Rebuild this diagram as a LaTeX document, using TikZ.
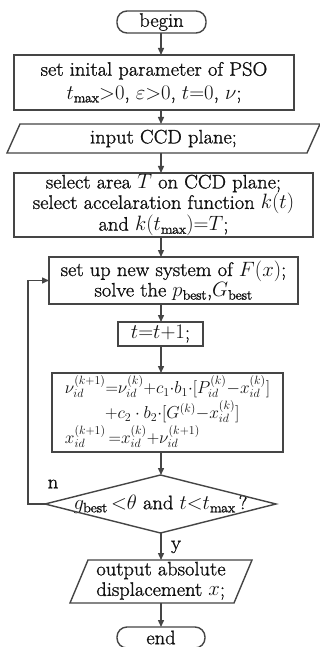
\documentclass[tikz,border=0pt]{standalone}
\usepackage{fontspec}
\setmainfont{Latin Modern Roman}[FakeStretch=1.05,FakeBold=1.2]
\usetikzlibrary{arrows.meta,calc}
\definecolor{lc}{HTML}{454545}
\definecolor{tc}{HTML}{111111}
\begin{document}
\begin{tikzpicture}[x=1pt,y=-1pt,
  every node/.style={font=\fontsize{19.5}{20.5}\selectfont, inner sep=0pt, outer sep=0pt, text=tc},
  ln/.style={draw=lc, line width=1.4pt},
  box/.style={ln, rectangle, align=center},
  term/.style={ln, rounded corners=10pt},
  arr/.style={ln, -{Triangle[length=7pt,width=6pt]}}]
\fill[white] (0,0) rectangle (320,647);
\useasboundingbox (0,0) rectangle (320,647);
\coordinate (ax) at (161,0);
% nodes
\node[term, minimum width=89pt, minimum height=22pt] (begin) at (161.5,22) {begin};
\node[box, minimum width=280pt, minimum height=55pt] (b1) at (154,82.5)
  {set inital parameter of PSO\\[3pt] $t_{\mathrm{max}}{>}0$, $\varepsilon{>}0$, $t{=}0$, $\nu$;};
\node[minimum width=313pt, minimum height=29pt] (in1) at (163.5,138.5) {input CCD plane;};
\node[box, minimum width=299pt, minimum height=64pt] (b2) at (163.5,205)
  {select area $T$ on CCD plane;\\ select accelaration function $k(t)$\\ and $k(t_{\mathrm{max}}){=}T$;};
\node[box, minimum width=249pt, minimum height=47pt] (b3) at (173.5,280.5)
  {set up new system of $F(x)$;\\ solve the $p_{\mathrm{best}}$,$G_{\mathrm{best}}$};
\node[box, minimum width=85pt, minimum height=24pt] (b4) at (160.5,334) {$t{=}t{+}1$;};
\node[box, minimum width=231pt, minimum height=79pt, font=\fontsize{18.6}{20}\selectfont] (b5) at (167.5,412.5)
  {\begin{tabular}{@{}l@{}}
   $\nu_{id}^{(k+1)}{=}\nu_{id}^{(k)}{+}c_1{\cdot}b_1{\cdot}[P_{id}^{(k)}{-}x_{id}^{(k)}]$\\[1pt]
   \multicolumn{1}{@{}c@{}}{$\;\;{+}c_2\cdot b_2{\cdot}[G^{(k)}{-}x_{id}^{(k)}]$}\\[1pt]
   $x_{id}^{(k+1)}\,{=}x_{id}^{(k)}{+}\nu_{id}^{(k+1)}$
   \end{tabular}};
\node[minimum width=231pt, minimum height=58pt] (d) at (160.5,504)
  {$g_{\mathrm{best}}\,{<}\theta$ and $t{<}t_{\mathrm{max}}$\,?};
\node[minimum width=182pt, minimum height=43pt] (out) at (161,581.5)
  {\begin{tabular}{@{}l@{}}output absolute\\displacement $x$;\end{tabular}};
\node[term, minimum width=88pt, minimum height=21pt] (end) at (161,637.5) {end};
\node (nl) at (53,484) {n};
\node (yl) at (176,547) {y};
% shapes drawn from node anchors
\draw[ln] ($(in1.north west)+(13,0)$) -- (in1.north east) -- ($(in1.south east)+(-13,0)$) -- (in1.south west) -- cycle;
\draw[ln] (d.north) -- (d.east) -- (d.south) -- (d.west) -- cycle;
\draw[ln] ($(out.north west)+(18,0)$) -- (out.north east) -- ($(out.south east)+(-18,0)$) -- (out.south west) -- cycle;
% connectors
\draw[arr] (begin.south -| ax) -- (b1.north -| ax);
\draw[arr] (b1.south -| ax) -- (in1.north -| ax);
\draw[arr] (in1.south -| ax) -- (b2.north -| ax);
\draw[arr] (b2.south -| ax) -- (b3.north -| ax);
\draw[arr] (b3.south -| ax) -- (b4.north -| ax);
\draw[arr] (b4.south -| ax) -- (b5.north -| ax);
\draw[arr] (b5.south -| ax) -- (d.north -| ax);
\draw[arr] (d.south -| ax) -- (out.north -| ax);
\draw[arr] (out.south -| ax) -- (end.north -| ax);
\draw[arr] (d.west) -- ++(-17,0) |- (b3.west);
\end{tikzpicture}
\end{document}
